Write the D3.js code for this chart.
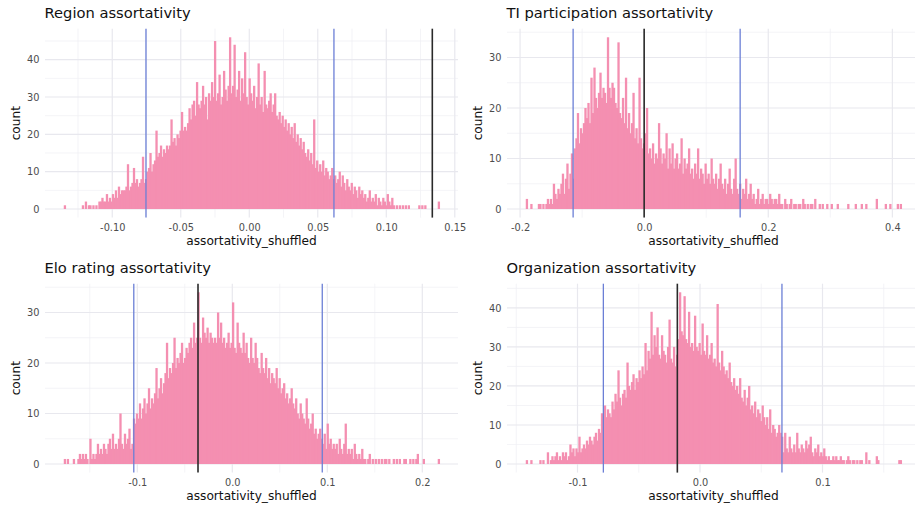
<!DOCTYPE html>
<html>
<head>
<meta charset="utf-8">
<script src="https://cdn.jsdelivr.net/npm/d3@7"></script>
<style>
  body { margin: 0; background: #fff; }
  svg { display: block; font-family: "DejaVu Sans", sans-serif; }
</style>
</head>
<body>
<div id="chart"></div>
<script>
// panel titles
const titles = ["Region assortativity", "TI participation assortativity",
                "Elo rating assortativity", "Organization assortativity"];

// left edge of the first bin and bin width, 250 bins per panel
const binStart = [-0.1354, -0.1908, -0.1774, -0.14223];
const binWidth = [0.0010962, 0.0024204, 0.0015809, 0.0012260];

// histogram counts
const regionCounts = [
  1,0,0,0,0,0,0,0,0,0, 0,0,1,0,2,0,1,1,0,1, 0,1,0,2,2,3,2,2,4,2,
  3,2,4,3,5,3,6,4,5,5, 5,6,12,5,6,7,11,7,8,6, 7,8,14,7,8,10,11,15,10,12,
  13,21,14,15,17,14,16,15,17,16, 17,24,18,19,17,20,19,21,26,21, 22,21,23,27,24,28,29,25,34,28,
  27,29,33,28,30,24,31,29,34,30, 45,29,31,36,28,30,37,32,29,33, 46,31,33,44,30,32,37,29,35,31,
  42,30,28,35,31,29,33,27,30,39, 28,30,26,37,28,27,29,31,26,28, 31,25,24,26,23,25,22,24,21,23,
  20,22,19,23,18,20,17,19,16,18, 15,14,16,13,15,12,24,11,13,10, 12,10,13,9,11,10,8,9,11,8,
  9,7,8,10,6,9,7,5,8,6, 5,7,4,6,5,3,6,4,5,3, 4,2,3,5,2,3,2,4,1,3,
  2,1,3,2,1,4,2,1,3,1, 0,1,0,1,0,1,0,1,0,1, 0,0,0,0,0,0,1,0,1,0,
  1,0,0,0,0,0,0,0,0,2
];
const tiCounts = [
  2,0,0,1,0,0,0,0,1,1, 0,1,0,1,2,1,2,1,5,3, 2,4,3,5,7,3,6,9,4,7,
  11,6,12,14,19,13,16,15,17,20, 18,21,17,26,19,28,22,20,23,27, 22,24,23,21,34,24,22,25,24,21,
  20,33,19,18,22,17,26,16,19,15, 17,23,14,16,13,26,14,12,13,15, 20,11,12,10,13,9,11,10,17,12,
  9,11,10,15,8,12,9,13,8,10, 11,8,9,14,7,10,8,9,12,7, 8,6,9,7,12,6,8,7,5,9,
  6,7,5,10,6,5,7,4,6,9, 5,4,6,3,5,8,4,3,6,10, 4,3,5,2,4,3,6,2,3,5,
  2,3,1,2,4,1,2,3,1,2, 2,1,3,2,1,2,2,1,3,1, 1,0,2,1,0,1,2,0,1,1,
  0,1,1,0,2,1,0,1,0,1, 1,0,2,0,0,1,0,1,0,0, 1,0,0,1,0,0,0,1,0,0,
  0,0,0,0,1,0,0,0,0,1, 0,0,0,1,0,0,1,0,0,0, 0,0,0,2,0,0,0,0,0,1,
  0,0,1,0,0,0,0,1,0,1
];
const eloCounts = [
  1,0,1,0,0,0,1,0,0,1, 2,1,2,1,2,1,0,5,1,2, 1,2,4,2,3,2,4,3,2,4,
  5,3,6,3,4,3,5,10,4,3, 6,4,5,7,3,4,9,8,10,9, 12,9,11,13,10,12,15,11,13,12,
  14,19,13,15,17,14,16,18,24,17, 19,18,20,25,19,21,20,22,24,20, 21,23,22,24,25,23,28,24,25,34,
  25,24,29,26,25,27,24,26,25,24, 25,24,30,25,28,24,25,23,24,26, 23,24,32,23,22,28,24,23,22,26,
  22,24,21,20,25,21,20,24,21,19, 18,22,19,18,21,17,19,16,18,17, 16,19,15,17,14,15,16,13,14,12,
  13,15,12,11,13,10,9,12,10,9, 8,13,9,7,8,10,6,7,5,6, 7,5,4,6,3,8,4,5,3,4,
  3,4,2,5,3,2,4,8,2,3, 2,3,1,4,2,1,2,1,3,1, 1,0,1,2,0,1,0,1,0,1,
  0,1,0,1,1,0,1,0,0,1, 0,1,0,1,0,0,1,1,0,0, 1,0,1,0,1,2,0,0,0,1,
  0,0,0,0,0,0,0,0,0,1
];
const orgCounts = [
  1,0,0,1,0,0,0,0,0,1, 0,1,0,0,3,0,1,2,1,2, 3,1,2,1,3,2,3,1,2,5,
  3,4,2,4,3,7,3,4,5,4, 6,5,7,6,5,7,8,6,9,8, 13,9,15,12,14,13,12,16,14,18,
  16,24,17,15,18,19,17,26,20,19, 21,23,19,22,21,24,22,25,23,31, 24,29,27,39,28,33,30,35,28,27,
  33,29,28,26,30,37,27,26,30,25, 28,32,44,34,33,43,32,31,39,30, 31,29,38,30,29,31,28,36,29,28,
  33,27,28,31,26,27,25,41,26,24, 29,25,23,24,22,26,21,20,22,19, 20,18,22,17,16,19,15,17,20,14,
  15,13,16,12,14,13,11,15,12,10, 12,9,14,8,10,9,7,8,10,8, 7,3,8,4,3,7,4,3,5,3,
  8,4,3,5,4,3,6,4,5,7, 3,2,4,3,5,2,3,2,4,2, 1,2,1,1,2,1,2,1,1,2,
  1,1,0,1,2,1,0,1,1,0, 1,0,1,1,0,0,3,0,1,0, 0,0,0,2,1,0,0,0,0,0,
  0,0,0,0,0,0,0,0,1,1
];
const counts = [regionCounts, tiCounts, eloCounts, orgCounts];

// reference lines: blue interval bounds, black observed value
const blueLines = [[-0.0754, 0.0618], [-0.1145, 0.1547], [-0.1037, 0.0947], [-0.0789, 0.0669]];
const observed = [0.1336, 0.0, -0.0361, -0.0185];

// x axis breaks
const xTicks = [[-0.10, -0.05, 0, 0.05, 0.10, 0.15], [-0.2, 0, 0.2, 0.4], [-0.1, 0, 0.1, 0.2], [-0.1, 0, 0.1]];
const xMinor = [[-0.125, -0.075, -0.025, 0.025, 0.075, 0.125], [-0.1, 0.1, 0.3],
                [-0.15, -0.05, 0.05, 0.15], [-0.15, -0.05, 0.05, 0.15]];
const xDigits = [2, 1, 1, 1];

const W = 915, H = 509;
const colLeft = [45, 507], colRight = [458, 920];
const rowTop = [28.7, 283.7], rowBottom = [217.6, 472.6];

const svg = d3.select("#chart").append("svg")
    .attr("width", W)
    .attr("height", H);

counts.forEach(function (data, k) {
    const col = k % 2, row = Math.floor(k / 2);
    const pl = colLeft[col], pr = colRight[col];
    const pt = rowTop[row], pb = rowBottom[row];
    const lo = binStart[k], bw = binWidth[k];
    const span = bw * data.length;
    const maxC = d3.max(data);

    const x = d3.scaleLinear()
        .domain([lo - 0.05 * span, lo + 1.05 * span])
        .range([pl, pr]);
    const y = d3.scaleLinear()
        .domain([-0.05 * maxC, 1.05 * maxC])
        .range([pb, pt]);

    const g = svg.append("g");

    // minor grid
    const yMinor = d3.range(5, maxC * 1.05, 10);
    g.selectAll(".xminor").data(xMinor[k].filter(v => x(v) >= pl && x(v) <= pr))
        .join("line")
        .attr("x1", d => x(d)).attr("x2", d => x(d))
        .attr("y1", pt).attr("y2", pb)
        .attr("stroke", "#efeff3").attr("stroke-width", 0.7);
    g.selectAll(".yminor").data(yMinor)
        .join("line")
        .attr("x1", pl).attr("x2", pr)
        .attr("y1", d => y(d)).attr("y2", d => y(d))
        .attr("stroke", "#efeff3").attr("stroke-width", 0.7);

    // major grid
    const yTicks = d3.range(0, maxC * 1.05, 10);
    g.selectAll(".xmajor").data(xTicks[k])
        .join("line")
        .attr("x1", d => x(d)).attr("x2", d => x(d))
        .attr("y1", pt).attr("y2", pb)
        .attr("stroke", "#e8e8ee").attr("stroke-width", 1.2);
    g.selectAll(".ymajor").data(yTicks)
        .join("line")
        .attr("x1", pl).attr("x2", pr)
        .attr("y1", d => y(d)).attr("y2", d => y(d))
        .attr("stroke", "#e8e8ee").attr("stroke-width", 1.2);

    // bars (slight overlap so neighbouring bins do not leave seams)
    const bins = data.map((c, i) => ({ x0: lo + i * bw, x1: lo + (i + 1) * bw, c: c }))
        .filter(d => d.c > 0);
    g.selectAll("rect.bar").data(bins)
        .join("rect")
        .attr("class", "bar")
        .attr("x", d => x(d.x0))
        .attr("width", d => x(d.x1) - x(d.x0) + 0.8)
        .attr("y", d => y(d.c))
        .attr("height", d => y(0) - y(d.c))
        .attr("fill", "#f48fb1");

    // reference lines
    g.selectAll(".blue").data(blueLines[k])
        .join("line")
        .attr("x1", d => x(d)).attr("x2", d => x(d))
        .attr("y1", pt).attr("y2", pb)
        .attr("stroke", "#6b7fd6").attr("stroke-width", 1.3);
    g.append("line")
        .attr("x1", x(observed[k])).attr("x2", x(observed[k]))
        .attr("y1", pt).attr("y2", pb)
        .attr("stroke", "#2a2a2a").attr("stroke-width", 1.6);

    // axes (no lines, labels only)
    const fmt = v => d3.format("." + xDigits[k] + "f")(v).replace("\u2212", "-");
    const xAxis = g.append("g")
        .attr("transform", `translate(0,${pb})`)
        .call(d3.axisBottom(x).tickValues(xTicks[k]).tickFormat(fmt).tickSize(0).tickPadding(6));
    const yAxis = g.append("g")
        .attr("transform", `translate(${pl},0)`)
        .call(d3.axisLeft(y).tickValues(yTicks).tickFormat(d3.format("d")).tickSize(0).tickPadding(5.5));
    [xAxis, yAxis].forEach(a => {
        a.select(".domain").remove();
        a.attr("font-family", null).attr("font-size", null);
        a.selectAll("text")
            .attr("font-size", "9.8px")
            .attr("fill", "#4d4d4d");
    });

    // axis titles
    g.append("text")
        .attr("x", (pl + pr) / 2)
        .attr("y", pb + 27.5)
        .attr("text-anchor", "middle")
        .attr("font-size", "12.2px")
        .attr("fill", "#111")
        .text("assortativity_shuffled");
    g.append("text")
        .attr("transform", `translate(${pl - 25},${(pt + pb) / 2}) rotate(-90)`)
        .attr("text-anchor", "middle")
        .attr("font-size", "12.2px")
        .attr("fill", "#111")
        .text("count");

    // panel title
    g.append("text")
        .attr("x", pl - 0.5)
        .attr("y", pt - 10.3)
        .attr("font-size", "14.7px")
        .attr("fill", "#111")
        .text(titles[k]);
});
</script>
</body>
</html>
